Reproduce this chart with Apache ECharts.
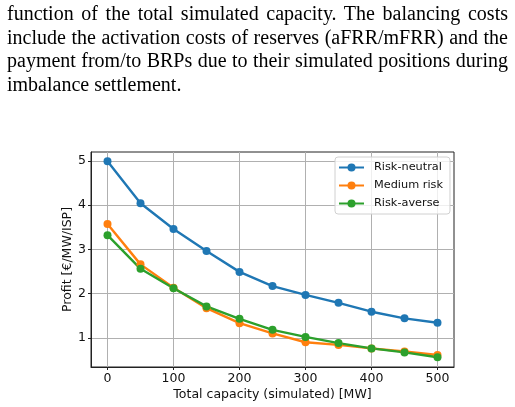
<!DOCTYPE html>
<html>
<head>
<meta charset="utf-8">
<script src="https://cdn.jsdelivr.net/npm/echarts@6/dist/echarts.min.js"></script>
<style>
  html, body { margin: 0; padding: 0; background: #fff; }
  #chart { position: absolute; left: 0; top: 0; width: 515px; height: 407px; }
  .para {
    position: absolute; left: 7px; top: 2px; width: 501px;
    font-family: "Liberation Serif", "DejaVu Serif", serif;
    font-size: 20px; line-height: 23.7px; color: #000;
  }
  .para div { text-align: justify; text-align-last: justify; }
  .para div.last { text-align: left; text-align-last: left; }
</style>
</head>
<body>
<div id="chart"></div>
<div class="para">
  <div>function of the total simulated capacity. The balancing costs</div>
  <div>include the activation costs of reserves (aFRR/mFRR) and the</div>
  <div>payment from/to BRPs due to their simulated positions during</div>
  <div class="last">imbalance settlement.</div>
</div>
<script>
const capacity = [0, 50, 100, 150, 200, 250, 300, 350, 400, 450, 500];
const riskNeutral = [4.99, 4.04, 3.46, 2.96, 2.49, 2.17, 1.97, 1.79, 1.59, 1.44, 1.34];
const mediumRisk = [3.57, 2.66, 2.13, 1.67, 1.33, 1.10, 0.90, 0.84, 0.76, 0.69, 0.61];
const riskAverse = [3.32, 2.56, 2.12, 1.71, 1.43, 1.18, 1.02, 0.88, 0.76, 0.67, 0.56];
const xTicks = [0, 100, 200, 300, 400, 500];
const yTicks = [1, 2, 3, 4, 5];

const chart = echarts.init(document.getElementById('chart'));

const mkSeries = (name, values, color) => ({
  name,
  type: 'line',
  data: capacity.map((c, i) => [c, values[i]]),
  symbol: 'circle',
  symbolSize: 8,
  itemStyle: { color },
  lineStyle: { color, width: 2.4 }
});

const tickFont = { fontFamily: 'DejaVu Sans', fontSize: 12.5, color: '#111' };

chart.setOption({
  animation: false,
  grid: {
    left: 91, right: 61, top: 152, bottom: 40,
    show: true, borderColor: '#222', borderWidth: 1
  },
  legend: {
    orient: 'vertical',
    left: 335, top: 157,
    padding: [5, 7, 5, 3],
    itemGap: 7,
    itemWidth: 25,
    itemHeight: 10,
    backgroundColor: 'rgba(255,255,255,0.8)',
    borderColor: '#d0d0d0',
    borderWidth: 1,
    borderRadius: 3,
    textStyle: { fontFamily: 'DejaVu Sans', fontSize: 11.3, color: '#111', padding: [0, 0, 0, 5] }
  },
  xAxis: {
    type: 'value',
    min: -25, max: 525,
    name: 'Total capacity (simulated) [MW]',
    nameLocation: 'middle',
    nameGap: 21,
    nameMoveOverlap: false,
    nameTextStyle: tickFont,
    axisLine: { onZero: false, lineStyle: { color: '#222', width: 1 } },
    axisTick: { show: true, length: 3, lineStyle: { color: '#222' }, customValues: xTicks },
    axisLabel: Object.assign({ margin: 5, customValues: xTicks }, tickFont),
    splitLine: { show: true, lineStyle: { color: '#b0b0b0', width: 1 } }
  },
  yAxis: {
    type: 'value',
    min: 0.34, max: 5.2,
    name: 'Profit [€/MW/ISP]',
    nameLocation: 'middle',
    nameGap: 17,
    nameMoveOverlap: false,
    nameTextStyle: tickFont,
    axisLine: { show: true, onZero: false, lineStyle: { color: '#222', width: 1 } },
    axisTick: { show: true, length: 3, lineStyle: { color: '#222' }, customValues: yTicks },
    axisLabel: Object.assign({ margin: 5, customValues: yTicks }, tickFont),
    splitLine: { show: true, lineStyle: { color: '#b0b0b0', width: 1 } }
  },
  series: [
    mkSeries('Risk-neutral', riskNeutral, '#1f77b4'),
    mkSeries('Medium risk', mediumRisk, '#ff7f0e'),
    mkSeries('Risk-averse', riskAverse, '#2ca02c')
  ]
});
</script>
</body>
</html>
